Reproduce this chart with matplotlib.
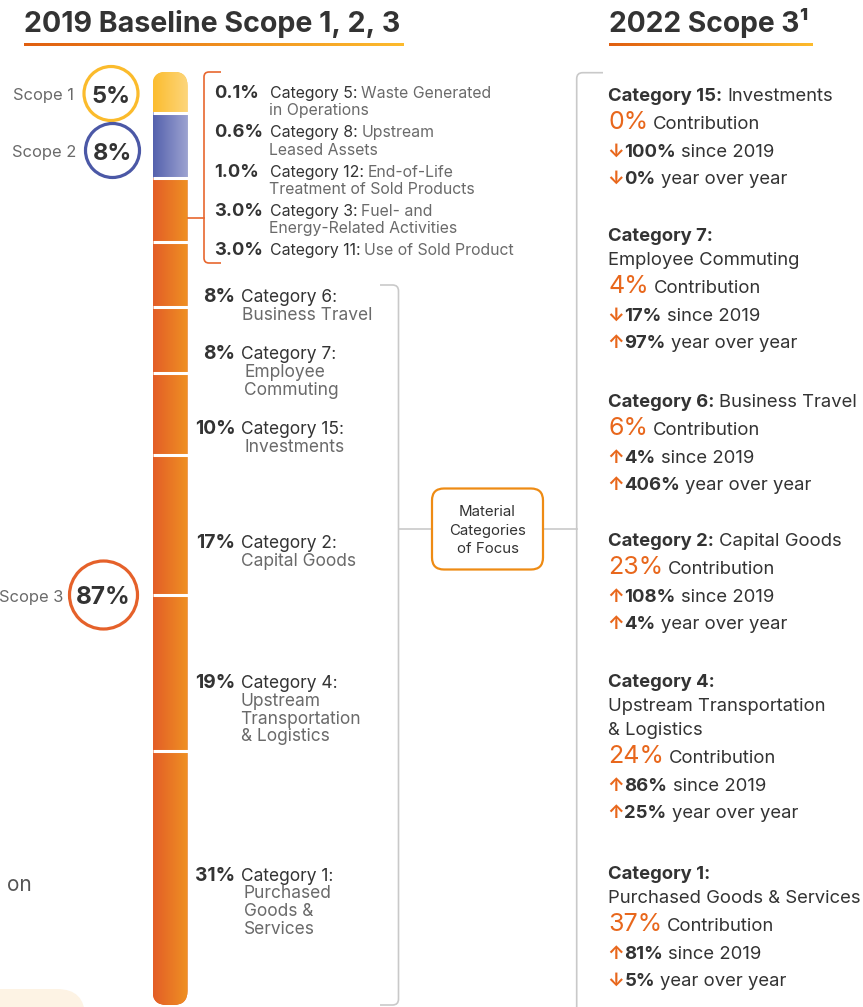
import matplotlib
matplotlib.use('Agg')
import matplotlib.pyplot as plt
import numpy as np
from matplotlib.patches import FancyBboxPatch, Circle, PathPatch
from matplotlib.path import Path
from matplotlib.colors import LinearSegmentedColormap

# ---------------- data ----------------
scope_labels = ["Scope 1", "Scope 2", "Scope 3"]
scope_values = [5, 8, 87]

small_values = [0.1, 0.6, 1.0, 3.0, 3.0]
small_cats = ["Category 5:", "Category 8:", "Category 12:", "Category 3:", "Category 11:"]
small_desc1 = ["Waste Generated", "Upstream", "End-of-Life", "Fuel- and", "Use of Sold Product"]
small_desc2 = ["in Operations", "Leased Assets", "Treatment of Sold Products", "Energy-Related Activities", ""]

big_values = [8, 8, 10, 17, 19, 31]
big_cats = ["Category 6:", "Category 7:", "Category 15:", "Category 2:", "Category 4:", "Category 1:"]
big_desc = [["Business Travel"], ["Employee", "Commuting"], ["Investments"], ["Capital Goods"],
            ["Upstream", "Transportation", "& Logistics"], ["Purchased", "Goods &", "Services"]]

cats_2022 = ["Category 15:", "Category 7:", "Category 6:", "Category 2:", "Category 4:", "Category 1:"]
names_2022 = [["Investments"], ["", "Employee Commuting"], ["Business Travel"], ["Capital Goods"],
              ["", "Upstream Transportation", "& Logistics"], ["", "Purchased Goods & Services"]]
contrib_2022 = [0, 4, 6, 23, 24, 37]
since_2019 = [100, 17, 4, 108, 86, 81]
since_dir = ["down", "down", "up", "up", "up", "up"]
yoy_vals = [0, 97, 406, 4, 25, 5]
yoy_dir = ["down", "up", "up", "up", "up", "down"]

# ---------------- setup ----------------
W, H = 863, 1007
FONT = ['Inter', 'DejaVu Sans']
plt.rcParams['font.family'] = FONT
DARK = '#333333'
GRAY = '#6a6a6a'
ORANGE = '#E8671C'

fig = plt.figure(figsize=(W / 100, H / 100), dpi=100)
ax = fig.add_axes([0, 0, 1, 1])
ax.set_xlim(0, W)
ax.set_ylim(H, 0)
ax.axis('off')
renderer = fig.canvas.get_renderer()


def put(x, y, s, size, color=DARK, weight='normal', ha='left', va='baseline'):
    return ax.text(x, y, s, fontsize=size, color=color, fontweight=weight,
                   ha=ha, va=va, family=FONT)


def width(t):
    return t.get_window_extent(renderer).width


def runs(x, y, parts, gaps):
    for i, (s, size, color, weight) in enumerate(parts):
        if not s:
            continue
        t = put(x, y, s, size, color, weight)
        g = gaps[i] if i < len(gaps) else 0.28
        x += width(t) + g * size * 100 / 72
    return x


def hgrad(axis, x0, x1, y0, y1, c0, c1, clip=None, z=2):
    cmap = LinearSegmentedColormap.from_list('g', [c0, c1])
    im = axis.imshow(np.linspace(0, 1, 256).reshape(1, -1), cmap=cmap, aspect='auto',
                     extent=(x0, x1, y1, y0), interpolation='bilinear', zorder=z)
    if clip is not None:
        im.set_clip_path(clip)
    return im


def rounded_path(points, r):
    """polyline with rounded corners"""
    verts = [points[0]]
    codes = [Path.MOVETO]
    for i in range(1, len(points) - 1):
        p0, p1, p2 = map(np.array, (points[i - 1], points[i], points[i + 1]))
        d0 = (p0 - p1) / np.linalg.norm(p0 - p1)
        d2 = (p2 - p1) / np.linalg.norm(p2 - p1)
        a = p1 + d0 * r
        b = p1 + d2 * r
        verts += [tuple(a), tuple(p1), tuple(b)]
        codes += [Path.LINETO, Path.CURVE3, Path.CURVE3]
    verts.append(points[-1])
    codes.append(Path.LINETO)
    return Path(verts, codes)


# ---------------- headers ----------------
put(24, 32, "2019 Baseline Scope 1, 2, 3", 20.6, DARK, 'bold')
hgrad(ax, 24, 403, 43.5, 46.5, '#E05F10', '#FDBB2D')
put(609, 32.5, "2022 Scope 3\u00b9", 20.3, DARK, 'bold')
hgrad(ax, 609, 812, 43.5, 46.5, '#E05F10', '#FDBB2D')

# ---------------- scope circles ----------------
circ = [((111, 93.5), 27, '#FBBB2C', 100, 74, 103.3),
        ((112.5, 150.5), 27, '#4B58A6', 156.7, 76.5, 159.5),
        ((103.5, 595), 34, '#E5612A', 602, 63, 604)]
for (lab, val, (c, r, col, lab_y, lab_x, val_y)) in zip(scope_labels, scope_values, circ):
    ax.add_patch(Circle(c, r, fill=True, fc='white', ec=col, lw=2.3, zorder=3))
    put(c[0], val_y, f"{val}%", 17 if val < 10 else 17.5, DARK, 'bold', ha='center').set_zorder(4)
    put(lab_x, lab_y, lab, 11.9, GRAY, ha='right')

# ---------------- stacked bar ----------------
bar_top, bar_bot = 71.7, 1005
bar_vals = [scope_values[0], scope_values[1], sum(small_values)] + big_values
bar_cols = [('#FBBC2E', '#FDD67C'), ('#5461AD', '#9DA3D1')] + [('#E35D27', '#EF9123')] * (len(bar_vals) - 2)
total = sum(bar_vals)
axb = fig.add_axes([152.5 / W, 1 - bar_bot / H, 35 / W, (bar_bot - bar_top) / H])
axb.set_xlim(0, 35)
axb.set_ylim(total, 0)
axb.axis('off')
clip = FancyBboxPatch((0, 0), 35, total, boxstyle="round,pad=0,rounding_size=14",
                      mutation_aspect=total / (bar_bot - bar_top), transform=axb.transData,
                      fc='none', ec='none')
bottoms = np.concatenate([[0], np.cumsum(bar_vals)[:-1]])
bars = axb.bar(0, bar_vals, bottom=bottoms, width=35, align='edge',
               color=[c[0] for c in bar_cols], edgecolor='none')
for b, (c0, c1) in zip(bars, bar_cols):
    b.set_clip_path(clip)
    hgrad(axb, b.get_x(), b.get_x() + b.get_width(), b.get_y(), b.get_y() + b.get_height(), c0, c1, clip=clip)
axb.hlines(np.cumsum(bar_vals)[:-1], 0, 35, colors='white', lw=2.2, zorder=5)
axb.set_xlim(0, 35)
axb.set_ylim(total, 0)

# ---------------- small categories ----------------
small_y = [97.7, 137.3, 176.7, 215.7, 255]
for v, cat, d1, d2, y in zip(small_values, small_cats, small_desc1, small_desc2, small_y):
    put(214, y, f"{v:.1f}%", 13.2, DARK, 'bold')
    runs(269.5, y, [(cat, 11.4, DARK, 'normal'), (d1, 11.4, GRAY, 'normal')], gaps=[0.26])
    if d2:
        put(269, y + 17.5, d2, 11.4, GRAY)

# orange bracket
p = rounded_path([(221, 72), (204, 72), (204, 263), (221, 263)], 5)
ax.add_patch(PathPatch(p, fc='none', ec='#E8672F', lw=1.2))
ax.plot([186, 204], [218, 218], color='#E8672F', lw=1.2)

# ---------------- big categories ----------------
big_y = [301.7, 359, 434, 548, 688, 880.7]
desc_x = [241.5, 244, 244, 240.5, 240.5, 243.5]
for v, cat, desc, y, dx in zip(big_values, big_cats, big_desc, big_y, desc_x):
    put(235.5, y, f"{v}%", 13.8, DARK, 'bold', ha='right')
    put(241, y, cat, 12.5, DARK)
    for k, line in enumerate(desc):
        put(dx, y + 17.8 * (k + 1), line, 12.5, GRAY)

# gray bracket + connectors
p = rounded_path([(380, 285), (398.5, 285), (398.5, 1005), (380, 1005)], 6)
ax.add_patch(PathPatch(p, fc='none', ec='#C9C9C9', lw=1.2))
p = rounded_path([(603, 72.7), (576.7, 72.7), (576.7, 1012)], 6)
ax.add_patch(PathPatch(p, fc='none', ec='#C9C9C9', lw=1.2))
ax.plot([398.5, 432], [529, 529], color='#C9C9C9', lw=1.2)
ax.plot([543, 576.7], [529, 529], color='#C9C9C9', lw=1.2)
ax.add_patch(FancyBboxPatch((432, 488.5), 111, 81, boxstyle="round,pad=0,rounding_size=12",
                            fc='white', ec='#EE8B14', lw=1.6, zorder=3))
for k, line in enumerate(["Material", "Categories", "of Focus"]):
    put(487.5, 516.5 + 18.3 * k, line, 10.8, DARK, ha='center').set_zorder(4)

# ---------------- 2022 right column ----------------
title_y = [101, 241, 407, 546, 687, 879]
ARW = {"up": "\u2191", "down": "\u2193"}
FS = 13.3
for cat, names, c, s, sd, yv, yd, y in zip(cats_2022, names_2022, contrib_2022, since_2019,
                                            since_dir, yoy_vals, yoy_dir, title_y):
    runs(608, y, [(cat, FS, DARK, 'bold'), (names[0], FS, DARK, 'normal')], gaps=[0.26])
    for line in names[1:]:
        y += 23.8
        put(608, y, line, FS, DARK)
    y += 28
    runs(608, y, [(f"{c}%", 18, ORANGE, 'normal'), ("Contribution", FS, DARK, 'normal')], gaps=[0.2])
    y += 28
    runs(607, y, [(ARW[sd], FS, ORANGE, 'bold'), (f"{s}%", FS, DARK, 'bold'),
                  ("since 2019", FS, DARK, 'normal')], gaps=[0.04, 0.28])
    y += 27
    runs(607, y, [(ARW[yd], FS, ORANGE, 'bold'), (f"{yv}%", FS, DARK, 'bold'),
                  ("year over year", FS, DARK, 'normal')], gaps=[0.04, 0.28])

# ---------------- cut-off neighbours ----------------
put(7, 891, "on", 15, '#555555')
ax.add_patch(FancyBboxPatch((-40, 989), 125, 60, boxstyle="round,pad=0,rounding_size=28",
                            fc='#FDF3E4', ec='none', zorder=1))

ax.set_xlim(0, W)
ax.set_ylim(H, 0)
fig.savefig('out.png', dpi=100)
